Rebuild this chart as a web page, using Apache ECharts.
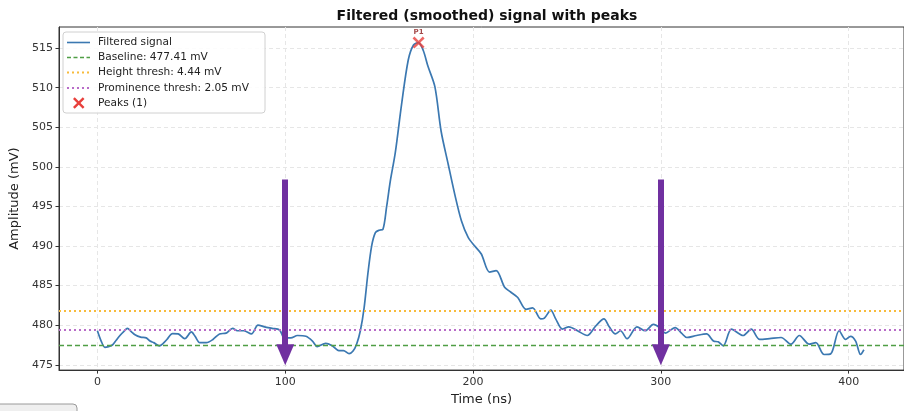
<!DOCTYPE html>
<html>
<head>
<meta charset="utf-8">
<script src="https://cdn.jsdelivr.net/npm/echarts@6/dist/echarts.min.js"></script>
<style>
html,body{margin:0;padding:0;background:#fff;}
#chart{width:904px;height:411px;}
</style>
</head>
<body>
<div id="chart"></div>
<script>
// ---- data ----
const timeNs = [0,2,4,6,8,10,12,14,16,18,20,23,26,28,30,33,35,37,40,43,46.5,50,52,54.5,58,61.5,65,68.5,72,74.5,78,82,85.5,89,93,97,99.5,103,106.5,111,114.5,117,121.5,125,128.5,131,134,136,138,140,142,144,146,148,150,152,154,156,158.6,162,165.5,168.3,171,173.5,176,179.7,183,186.8,190.3,193.8,197.4,200.9,204.4,208.8,212.3,216.8,220,223.8,228.2,231.7,236,238,241.4,244,247.6,251,255.6,260.8,265.3,269.7,272.5,275.8,278.5,282,287.3,291.7,296,300,302.3,307.6,311,313.8,319,324.3,328,330.5,333.2,337.6,343.8,348.1,352.6,357.9,364,369.3,373.7,379,382.5,386.9,390.5,394.9,398.4,401,403.7,406.3,408.1];
const signalMv = [479.3,478.0,477.2,477.3,477.5,478.1,478.7,479.2,479.6,479.2,478.8,478.5,478.4,478.0,477.8,477.4,477.7,478.2,478.95,478.9,478.3,479.15,478.6,477.8,477.8,478.2,478.9,479.0,479.6,479.3,479.3,478.9,480.0,479.8,479.6,479.4,478.4,478.4,478.7,478.6,478.0,477.3,477.7,477.4,476.8,476.8,476.4,476.7,477.6,479.3,482.2,486.5,490.0,491.7,492.0,492.1,495.0,498.3,501.8,508.0,513.5,515.4,515.7,514.7,512.7,510.1,504.5,500.3,496.5,493.2,491.1,490.0,489.0,486.7,486.9,484.8,484.2,483.5,482.0,482.2,480.8,480.9,481.9,480.8,479.5,479.8,479.3,478.7,479.9,480.8,479.8,478.9,479.3,478.3,479.8,479.3,480.1,479.6,479.0,479.7,479.0,478.45,478.7,478.9,478.0,477.9,477.4,479.5,478.7,479.5,478.2,478.3,478.45,477.6,478.7,477.6,477.8,476.3,476.4,479.3,478.2,478.6,478.0,476.3,476.9];
const peakTimes = [171];
const peakValues = [515.7];
const peakLabels = ['P1'];
const baselineMv = 477.41;
const heightThreshMv = 4.44;
const prominenceThreshMv = 2.05;
const xTicks = [0,100,200,300,400];
const yTicks = [475,480,485,490,495,500,505,510,515];
const arrowTimes = [100,300];
const arrowTopMv = 498.42;
const arrowHeadMv = 476.28;
const legendLabels = ['Filtered signal','Baseline: 477.41 mV','Height thresh: 4.44 mV','Prominence thresh: 2.05 mV','Peaks (1)'];

// ---- build ----
const C_SIG = '#3b78b1', C_BASE = '#4f9e45', C_HEIGHT = '#f7bb3c', C_PROM = '#b86cc8', C_PEAK = '#e8403c', C_ARROW = '#7030a0';
const FONT = 'DejaVu Sans';
const xPath = 'path://M1.5,0 L5,3.5 L8.5,0 L10,1.5 L6.5,5 L10,8.5 L8.5,10 L5,6.5 L1.5,10 L0,8.5 L3.5,5 L0,1.5Z';
const xPts = [[1.5,0],[5,3.5],[8.5,0],[10,1.5],[6.5,5],[10,8.5],[8.5,10],[5,6.5],[1.5,10],[0,8.5],[3.5,5],[0,1.5]];

const sig = timeNs.map((t,i)=>[t, signalMv[i]]);
const peaks = peakTimes.map((t,i)=>({value:[t, peakValues[i]], label:{formatter: peakLabels[i]}}));

const hLines = [
  {yAxis: baselineMv, lineStyle:{color:C_BASE, type:[5,3], width:1.4}},
  {yAxis: baselineMv + heightThreshMv, lineStyle:{color:C_HEIGHT, type:[2,3], width:1.8}},
  {yAxis: baselineMv + prominenceThreshMv, lineStyle:{color:C_PROM, type:[2,3], width:1.8}}
];
const arrows = arrowTimes.map(t => [
  {coord:[t, arrowTopMv], symbol:'none', lineStyle:{color:C_ARROW, width:6, type:'solid'}},
  {coord:[t, arrowHeadMv], symbol:'triangle', symbolSize:[18,21]}
]);

// legend (graphic)
const lgX = 63, lgY = 32, rowY = [42.5,57.5,72.5,88,103];
const legendEls = [
  {type:'rect', shape:{x:lgX, y:lgY, width:202, height:81, r:3}, style:{fill:'rgba(255,255,255,0.85)', stroke:'#d0d0d0', lineWidth:1}, z:100}
];
const lgStyles = [
  {stroke:C_SIG, lineWidth:1.6},
  {stroke:C_BASE, lineWidth:1.4, lineDash:[4,2.5]},
  {stroke:C_HEIGHT, lineWidth:1.8, lineDash:[2,3]},
  {stroke:C_PROM, lineWidth:1.8, lineDash:[2,3]}
];
legendLabels.forEach((lab,i)=>{
  if (i < 4) {
    legendEls.push({type:'line', shape:{x1:lgX+4, y1:rowY[i], x2:lgX+27, y2:rowY[i]}, style:lgStyles[i], z:101});
  } else {
    const s = 1.15, ox = lgX+10, oy = rowY[i]-5.75;
    legendEls.push({type:'polygon', shape:{points:xPts.map(p=>[ox+p[0]*s, oy+p[1]*s])}, style:{fill:C_PEAK}, z:101});
  }
  legendEls.push({type:'text', x:lgX+35, y:rowY[i], style:{text:lab, fill:'#222', font:'10.6px "DejaVu Sans"', verticalAlign:'middle'}, z:101});
});
legendEls.push({type:'rect', shape:{x:-6, y:404, width:83, height:20, r:4}, style:{fill:'#efefef', stroke:'#9a9a9a', lineWidth:1}});

const chart = echarts.init(document.getElementById('chart'), null, {renderer:'canvas'});
chart.setOption({
  animation:false,
  backgroundColor:'#fff',
  textStyle:{fontFamily:FONT},
  title:{text:'Filtered (smoothed) signal with peaks', left:482, textAlign:'center', top:4, textStyle:{fontFamily:FONT, fontSize:14, fontWeight:'bold', color:'#111'}},
  grid:{left:59, right:-2, top:27, bottom:40.5, show:true, borderColor:'#333', borderWidth:1, backgroundColor:'transparent', containLabel:false},
  xAxis:{type:'value', min:-20.45, max:429.45,
    name:'Time (ns)', nameLocation:'middle', nameGap:22, nameTextStyle:{fontFamily:FONT, fontSize:13, color:'#222'},
    axisLine:{show:true, onZero:false, lineStyle:{color:'#333', width:1}},
    axisTick:{show:true, length:3.5, customValues:xTicks, lineStyle:{color:'#333'}},
    axisLabel:{customValues:xTicks, fontFamily:FONT, fontSize:11, color:'#333', margin:7},
    splitLine:{show:true, lineStyle:{color:'#e6e6e6', type:[4,3], width:1}}
  },
  yAxis:{type:'value', min:474.33, max:517.67,
    name:'Amplitude (mV)', nameLocation:'middle', nameGap:32, nameTextStyle:{fontFamily:FONT, fontSize:13, color:'#222'},
    axisLine:{show:true, onZero:false, lineStyle:{color:'#333', width:1}},
    axisTick:{show:true, length:3.5, customValues:yTicks, lineStyle:{color:'#333'}},
    axisLabel:{customValues:yTicks, fontFamily:FONT, fontSize:11, color:'#333', margin:6},
    splitLine:{show:true, lineStyle:{color:'#e6e6e6', type:[4,3], width:1}}
  },
  series:[
    {type:'line', name:'Filtered signal', data:sig, showSymbol:false, smooth:0.3, clip:true,
     lineStyle:{color:C_SIG, width:1.7}, z:3,
     markLine:{silent:true, symbol:'none', label:{show:false}, animation:false, data:[...hLines, ...arrows]}},
    {type:'scatter', name:'Peaks', data:peaks, symbol:xPath, symbolSize:12, itemStyle:{color:C_PEAK}, z:5,
     label:{show:true, position:'top', distance:1, fontSize:7, fontWeight:'bold', color:'#8b1a1a', fontFamily:FONT}}
  ],
  graphic:legendEls
});
</script>
</body>
</html>
